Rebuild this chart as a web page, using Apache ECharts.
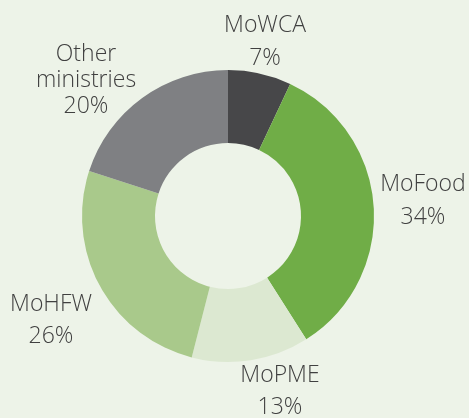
<!DOCTYPE html>
<html>
<head>
<meta charset="utf-8">
<script src="https://cdn.jsdelivr.net/npm/echarts@6/dist/echarts.min.js"></script>
<style>
html,body{margin:0;padding:0;background:#edf3e8;}
#chart{width:469px;height:418px;}
</style>
</head>
<body>
<div id="chart"></div>
<script>
const categories = ['MoWCA', 'MoFood', 'MoPME', 'MoHFW', 'Other\nministries'];
const shares = [7, 34, 13, 26, 20];
const colors = ['#474749', '#70ad47', '#dce8d1', '#a9c98b', '#7f8083'];
// label block centres (layout styling)
const labelPos = [[265, 42], [423, 201], [280, 391], [51, 320], [86, 80]];
const labelLH = [33, 33, 32, 32, 26];

const chart = echarts.init(document.getElementById('chart'));
chart.setOption({
  backgroundColor: '#edf3e8',
  animation: false,
  series: [{
    type: 'pie',
    center: [228, 216],
    radius: [73, 146],
    startAngle: 90,
    clockwise: true,
    avoidLabelOverlap: false,
    data: categories.map((n, i) => ({
      name: n, value: shares[i],
      itemStyle: { color: colors[i] },
      label: { lineHeight: labelLH[i] }
    })),
    label: {
      show: true,
      position: 'outside',
      formatter: '{b}\n{c}%',
      fontFamily: 'Open Sans',
      fontWeight: 300,
      fontSize: 23,
      color: '#404040',
      align: 'center'
    },
    labelLine: { show: false },
    labelLayout: function (p) {
      const pos = labelPos[p.dataIndex];
      return { x: pos[0], y: pos[1], align: 'center', verticalAlign: 'middle', hideOverlap: false };
    },
    emphasis: { disabled: true }
  }]
});
</script>
</body>
</html>
